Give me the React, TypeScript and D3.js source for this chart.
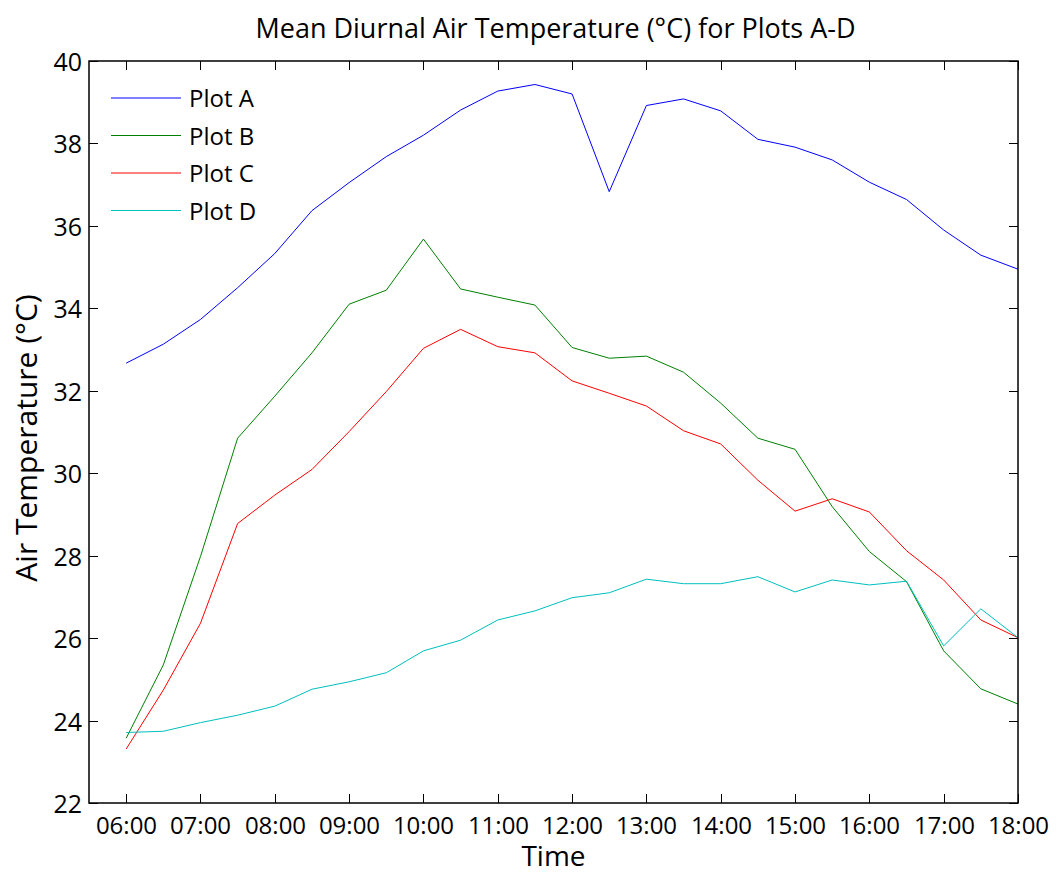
import React from 'react';
import * as d3 from 'd3';

// half-hourly readings, 06:00 .. 18:00
const times = [
  '06:00', '06:30', '07:00', '07:30', '08:00', '08:30', '09:00', '09:30', '10:00',
  '10:30', '11:00', '11:30', '12:00', '12:30', '13:00', '13:30', '14:00', '14:30',
  '15:00', '15:30', '16:00', '16:30', '17:00', '17:30', '18:00',
];

const plotA = [
  32.67, 33.13, 33.73, 34.5, 35.33, 36.37, 37.05, 37.68, 38.2, 38.81, 39.27, 39.43,
  39.2, 36.83, 38.92, 39.08, 38.79, 38.1, 37.91, 37.6, 37.06, 36.64, 35.9, 35.29, 34.95,
];
const plotB = [
  23.57, 25.35, 27.98, 30.85, 31.87, 32.92, 34.1, 34.44, 35.68, 34.47, 34.27, 34.08,
  33.05, 32.79, 32.84, 32.45, 31.7, 30.85, 30.58, 29.19, 28.1, 27.37, 25.69, 24.77, 24.4,
];
const plotC = [
  23.31, 24.74, 26.36, 28.78, 29.47, 30.09, 31.01, 31.98, 33.03, 33.49, 33.07, 32.92,
  32.24, 31.94, 31.63, 31.03, 30.71, 29.83, 29.08, 29.38, 29.06, 28.12, 27.41, 26.44, 26.01,
];
const plotD = [
  23.71, 23.74, 23.95, 24.13, 24.35, 24.76, 24.94, 25.16, 25.69, 25.95, 26.44, 26.66,
  26.98, 27.1, 27.43, 27.32, 27.32, 27.49, 27.12, 27.41, 27.29, 27.38, 25.81, 26.71, 26.01,
];

const seriesNames = ['Plot A', 'Plot B', 'Plot C', 'Plot D'];
const seriesColors = ['#0000ff', '#008000', '#ff0000', '#00bfbf'];

const xTickLabels = [
  '06:00', '07:00', '08:00', '09:00', '10:00', '11:00', '12:00',
  '13:00', '14:00', '15:00', '16:00', '17:00', '18:00',
];
const yTicks = [22, 24, 26, 28, 30, 32, 34, 36, 38, 40];

const toHours = (t: string) => {
  const [h, m] = t.split(':').map(Number);
  return h + m / 60;
};

const W = 1059;
const H = 874;
const left = 89;
const right = 1018;
const top = 61;
const bottom = 803;
const font = '"Open Sans", "DejaVu Sans", sans-serif';

export default function App() {
  const x = d3.scaleLinear().domain([5.5, 18]).range([left, right]);
  const y = d3.scaleLinear().domain([22, 40]).range([bottom, top]);

  const line = d3
    .line<number>()
    .x((_, i) => x(toHours(times[i])))
    .y((d) => y(d));

  const allSeries = [plotA, plotB, plotC, plotD];
  const tickLen = 9;

  return (
    <svg
      width={W}
      height={H}
      style={{ position: 'absolute', left: 0, top: 0, background: '#fff' }}
      fontFamily={font}
    >
      <rect x={0} y={0} width={W} height={H} fill="#fff" />

      {/* title */}
      <text
        x={(left + right) / 2 + 2}
        y={38}
        textAnchor="middle"
        fontSize={27}
        fill="#000"
        textLength={600}
        lengthAdjust="spacingAndGlyphs"
      >
        Mean Diurnal Air Temperature (°C) for Plots A-D
      </text>

      {/* data lines */}
      {allSeries.map((s, i) => (
        <path key={i} d={line(s) || ''} fill="none" stroke={seriesColors[i]} strokeWidth={1} />
      ))}

      {/* box */}
      <rect
        x={left}
        y={top}
        width={right - left}
        height={bottom - top}
        fill="none"
        stroke="#000"
        strokeWidth={1.5}
      />

      {/* x ticks */}
      {xTickLabels.map((t) => {
        const px = Math.round(x(toHours(t))) + 0.5;
        return (
          <g key={t}>
            <line x1={px} x2={px} y1={bottom} y2={bottom - tickLen} stroke="#000" />
            <line x1={px} x2={px} y1={top} y2={top + tickLen} stroke="#000" />
            <text x={px} y={834} textAnchor="middle" fontSize={24} fill="#000">
              {t}
            </text>
          </g>
        );
      })}

      {/* y ticks */}
      {yTicks.map((v) => {
        const py = Math.round(y(v)) + 0.5;
        return (
          <g key={v}>
            <line x1={left} x2={left + tickLen} y1={py} y2={py} stroke="#000" />
            <line x1={right} x2={right - tickLen} y1={py} y2={py} stroke="#000" />
            <text x={82} y={py + 9} textAnchor="end" fontSize={25} fill="#000">
              {v}
            </text>
          </g>
        );
      })}

      {/* axis titles */}
      <text x={(left + right) / 2} y={866} textAnchor="middle" fontSize={28} fill="#000">
        Time
      </text>
      <text
        transform={`translate(37, 438) rotate(-90)`}
        textAnchor="middle"
        fontSize={30}
        fill="#000"
      >
        Air Temperature (°C)
      </text>

      {/* legend */}
      {seriesNames.map((n, i) => {
        const ly = 98 + i * 37.5;
        return (
          <g key={n}>
            <line x1={111} x2={181} y1={ly} y2={ly} stroke={seriesColors[i]} strokeWidth={1} />
            <text x={189} y={ly + 9} fontSize={24} fill="#000">
              {n}
            </text>
          </g>
        );
      })}
    </svg>
  );
}
